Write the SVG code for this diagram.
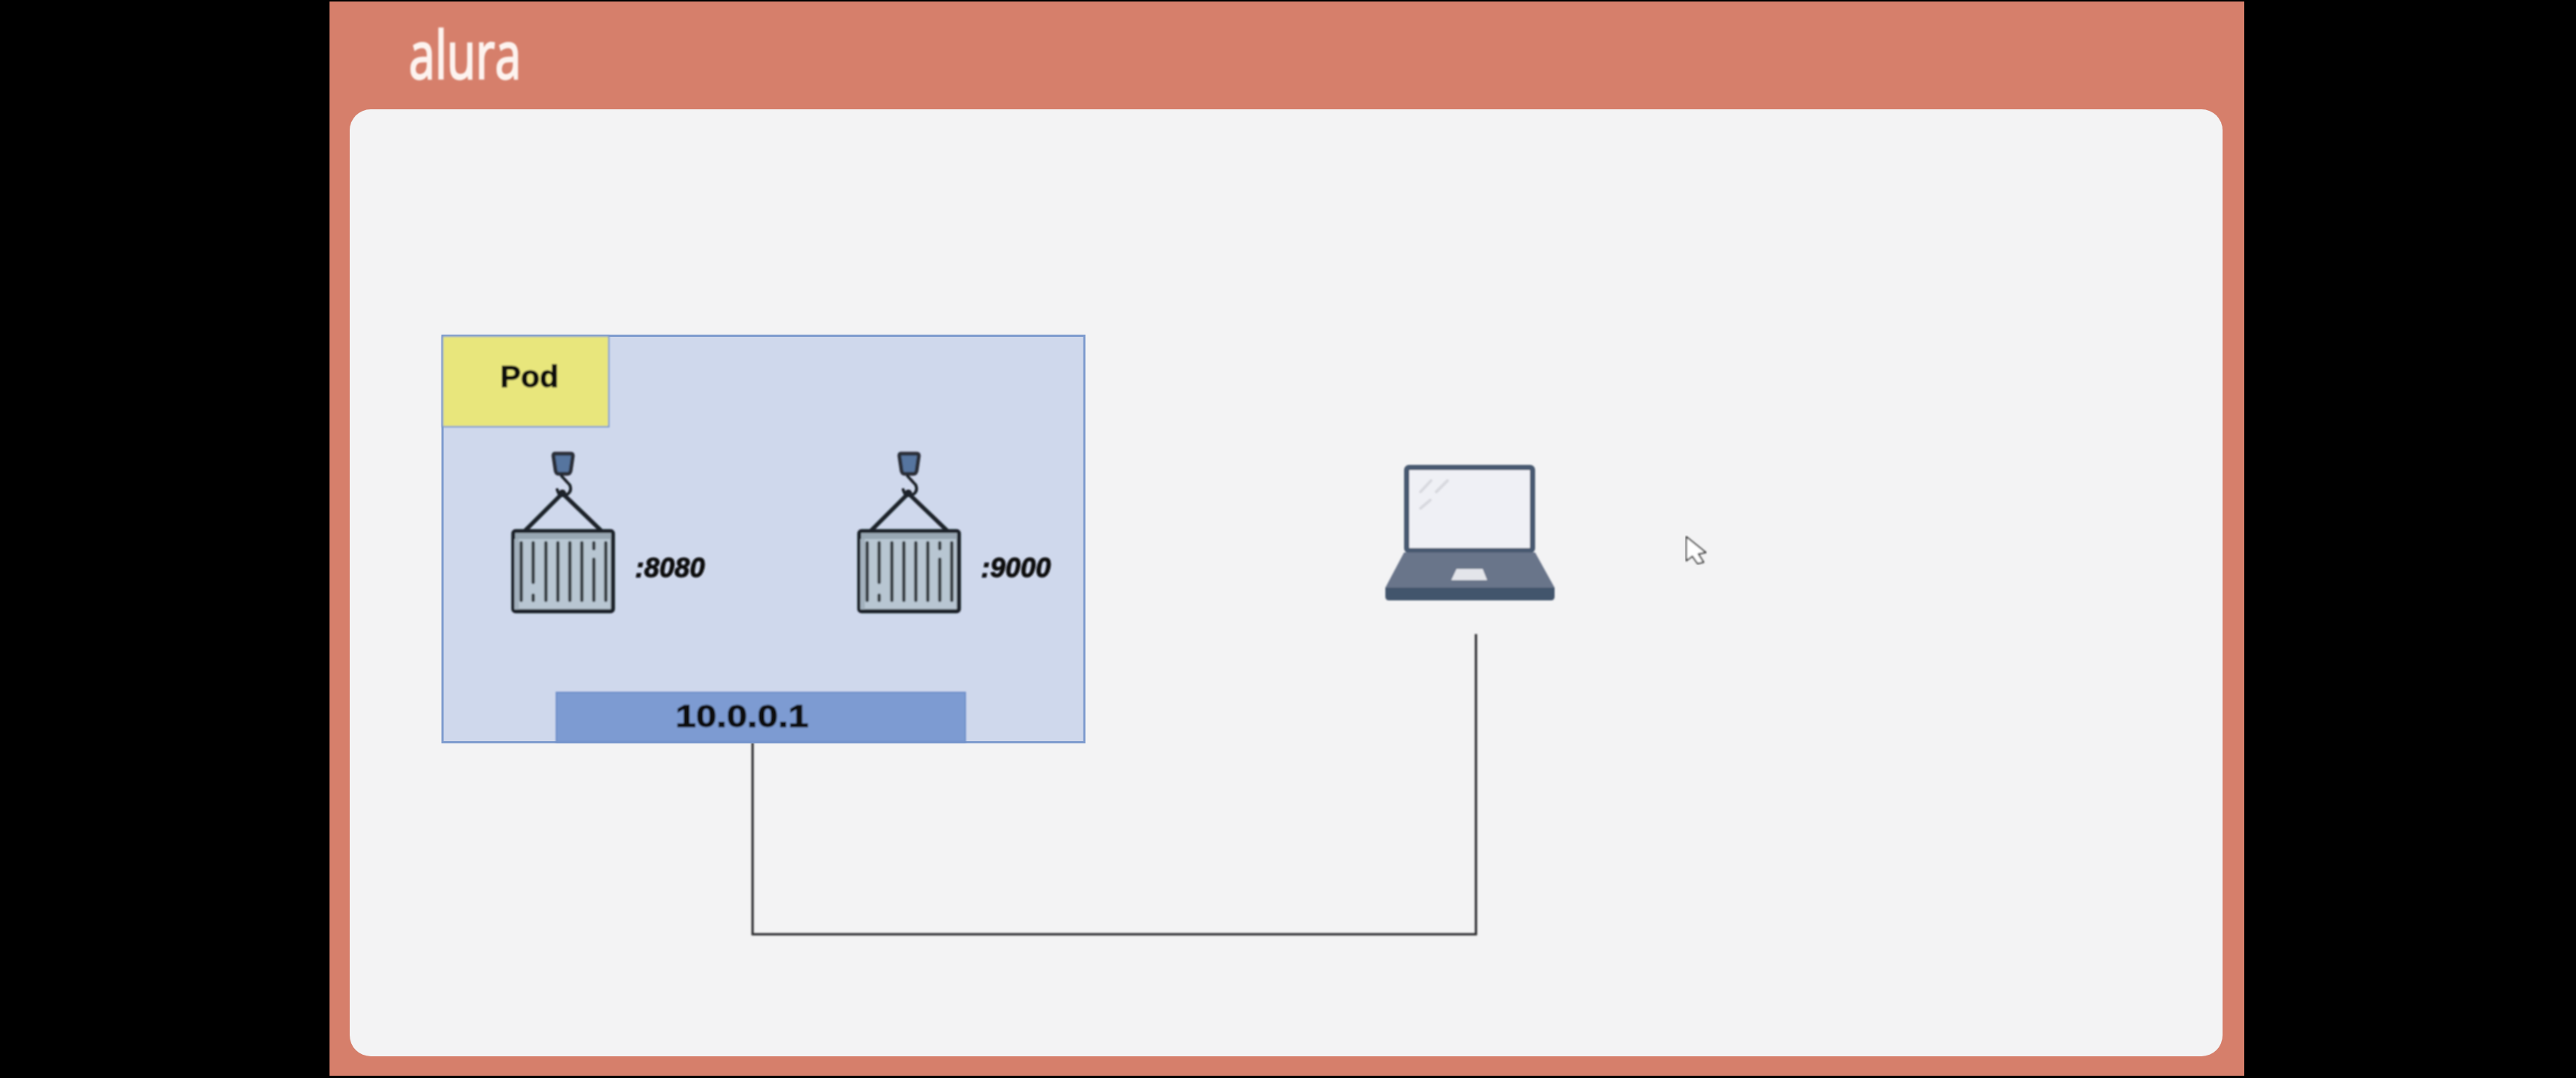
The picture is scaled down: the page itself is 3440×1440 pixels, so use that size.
<svg xmlns="http://www.w3.org/2000/svg" width="3440" height="1440" viewBox="0 0 3440 1440">
<style>
.t{font-family:"Liberation Sans",Arial,sans-serif;font-weight:700;fill:#0c0c10;stroke:#0c0c10;stroke-width:1}
.port{font-size:36.500px;font-style:italic}
.dark{fill:none;stroke:#1f2429;stroke-linecap:round}
.conn{fill:none;stroke:#2c2c2e;stroke-width:3}
.soft{filter:url(#soft)}
</style>
<defs>
<filter id="soft" x="-5%" y="-5%" width="110%" height="110%"><feGaussianBlur stdDeviation="0.900"/></filter>
<g id="crate">
<path d="M741 606h21q3 0 3 3l-3 20q-1 4-4 4h-12q-3 0-4-4l-3-20q0-3 2-3z" fill="#56749f" stroke="#2a2f38" stroke-width="5"/>
<path class="dark" stroke-width="4" d="M750 636l11 12q3 8-3 12q-8 3-12-1l-2-5"/>
<circle cx="751" cy="659" r="5" fill="#1f2429"/>
<path class="dark" stroke-width="5.500" d="M702 708L751 659L802 708"/>
<rect x="685.500" y="709.500" width="133" height="107" rx="3" fill="#b8c6d2" stroke="#1f2429" stroke-width="5.500"/>
<rect x="688" y="712" width="128" height="8" fill="#98a7b3"/>
<rect x="687" y="720" width="6" height="94" fill="#a3b1bd"/>
<path class="dark" stroke-width="4.500" stroke-opacity=".85" d="M696 725V802M712 725V778M712 795V802M729 725V802M745 725V802M761 725V802M777 725V802M793 725V733M793 747V802M809 725V802"/>
</g>
</defs>
<rect width="3440" height="1440" fill="#000"/>
<g id="slide">
<rect x="440" y="2" width="2557" height="1435" fill="#d67f6b"/>
<rect x="467" y="146" width="2501" height="1265" rx="28" fill="#f3f3f4"/>
<text class="soft" x="546" y="105" font-family="'Open Sans',Lato,sans-serif" font-size="88" fill="#fdf3ef" stroke="#fdf3ef" stroke-width="2.500" textLength="150" lengthAdjust="spacingAndGlyphs">alura</text>
</g>
<g id="connectors" class="soft">
<path class="conn" d="M1005 992V1248H1971V847"/>
</g>
<g id="pod">
<rect x="591" y="448.500" width="857" height="543" fill="#cfd8ec" stroke="#7f9cce" stroke-width="3"/>
</g>
<g id="pod-label" class="soft">
<rect x="591" y="449" width="222" height="121" fill="#e8e67c" stroke="#7f9cce" stroke-width="2"/>
<text class="t" x="668" y="517" font-size="41" textLength="78" lengthAdjust="spacingAndGlyphs">Pod</text>
</g>
<g id="container-8080" class="soft">
<use href="#crate"/>
<text class="t port" x="848" y="771">:8080</text>
</g>
<g id="container-9000" class="soft">
<use href="#crate" x="462"/>
<text class="t port" x="1310" y="771">:9000</text>
</g>
<g id="pod-ip" class="soft">
<rect x="743" y="925" width="546" height="66" fill="#7d9bd2" stroke="#6f8fc9" stroke-width="2"/>
<text class="t" x="902" y="971" font-size="43" textLength="178" lengthAdjust="spacingAndGlyphs">10.0.0.1</text>
</g>
<g id="laptop" class="soft">
<rect x="1878.500" y="624.500" width="168" height="111" rx="3" fill="#eff0f5" stroke="#47586f" stroke-width="7"/>
<path d="M1897 657l14-15M1918 657l15-15M1897 679l13-11" stroke="#d8d9df" stroke-width="4" stroke-linecap="round"/>
<path d="M1875 738H2050L2076 785H1850z" fill="#69758a"/>
<path d="M1945 760H1980L1986 775H1938z" fill="#e3e5ea"/>
<path d="M1850 785H2076V797q0 5-5 5H1855q-5 0-5-5z" fill="#43546c"/>
</g>
<g id="cursor" class="soft">
<path d="M2252 717V749L2260 743L2267 753L2275 751L2268 740L2278 738z" fill="#fff" stroke="#3a3a3a" stroke-width="2" stroke-linejoin="round"/>
</g>
</svg>
